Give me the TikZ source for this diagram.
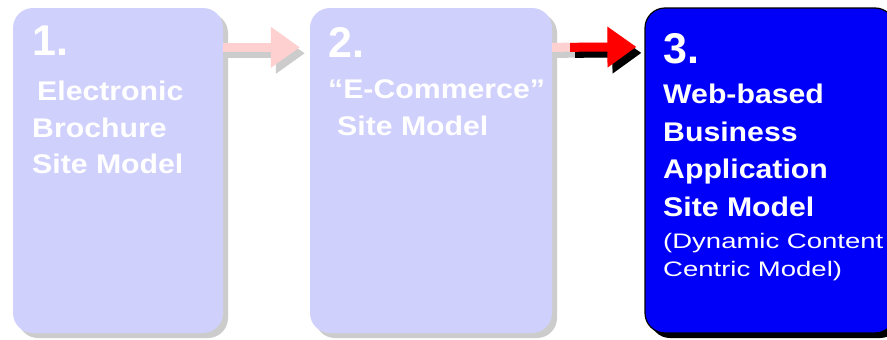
\documentclass[tikz,border=0pt]{standalone}
\usepackage{fontspec}
\usetikzlibrary{arrows.meta,calc,shadows}
\newfontfamily\lblfont[FakeStretch=1.12]{Liberation Sans Bold}
\newfontfamily\notefont[FakeStretch=1.31]{Liberation Sans}
\newfontfamily\numfont{Liberation Sans Bold}
\definecolor{lavender}{HTML}{D0D0FC}
\definecolor{paleblue}{HTML}{0000F8}
\definecolor{palepink}{HTML}{FFD0D0}
\definecolor{shadowgrey}{HTML}{CCCCCC}
\definecolor{arrowred}{HTML}{FF0000}
\tikzset{
  stagebox/.style={rectangle, rounded corners=20pt, minimum width=#1, minimum height=325pt, inner sep=0pt},
  fadedbox/.style={stagebox=#1, fill=lavender,
    drop shadow={shadow xshift=5pt, shadow yshift=-5pt, fill=shadowgrey, opacity=1}},
  activebox/.style={stagebox=#1, fill=paleblue, draw=black, line width=1.2pt,
    drop shadow={shadow xshift=5pt, shadow yshift=-5pt, fill=black, opacity=1}},
  numtext/.style={anchor=base west, inner sep=0pt, text=white, font=\numfont\fontsize{43}{48}\selectfont},
  boxtext/.style={anchor=base west, inner sep=0pt, text=white, font=\lblfont\fontsize{27}{32}\selectfont},
  smalltext/.style={anchor=base west, inner sep=0pt, text=white, font=\notefont\fontsize{21}{26}\selectfont},
  flow/.style={line width=9pt, -{Triangle[length=29pt,width=39pt]}},
  flowshadow/.style={flow, transform canvas={xshift=5pt, yshift=-6pt}},
}
\begin{document}
\begin{tikzpicture}[x=1pt,y=-1pt]
\clip (0,0) rectangle (887,340);
\fill[white] (0,0) rectangle (887,340);

% the three stage boxes
\node[fadedbox=210pt] (b1) at (118,170.5) {};
\node[fadedbox=242pt] (b2) at (431,170.5) {};
\node[activebox=250pt] (b3) at (770,170.5) {};

% arrow end points, level with the headings
\coordinate (a1s) at ($(b1.north east)+(0,39.5)$);
\coordinate (a1e) at ($(b2.north west)+(-10,39.5)$);
\coordinate (a2s) at ($(b2.north east)+(0,39.5)$);
\coordinate (a2m) at ($(b2.north east)+(18,39.5)$);
\coordinate (a2e) at ($(b3.north west)+(-8,39.5)$);

% faded arrow 1 -> 2
\draw[flowshadow, shadowgrey] (a1s) -- (a1e);
\draw[flow, palepink] (a1s) -- (a1e);
% faded shaft under arrow 2 -> 3
\draw[flowshadow, shadowgrey] (a2s) -- (a2e);
\draw[flow, palepink] (a2s) -- (a2e);
% active arrow 2 -> 3
\draw[flowshadow, black] (a2m) -- (a2e);
\draw[flow, arrowred] (a2m) -- (a2e);

% box 1 text
\node[numtext] (n1) at (32,55) {1.};
\node[boxtext] (t1a) at (37,100) {Electronic};
\node[boxtext] (t1b) at (32,137) {Brochure};
\node[boxtext] (t1c) at (32,173) {Site Model};

% box 2 text
\node[numtext] (n2) at (328,57) {2.};
\node[boxtext] (t2a) at (328,98) {“E-Commerce”};
\node[boxtext] (t2b) at (337,135) {Site Model};

% box 3 text
\node[numtext] (n3) at (663,63) {3.};
\node[boxtext] (t3a) at (663,103) {Web-based};
\node[boxtext] (t3b) at (663,141) {Business};
\node[boxtext] (t3c) at (663,178) {Application};
\node[boxtext] (t3d) at (663,216) {Site Model};
\node[smalltext] (t3e) at (663,248) {(Dynamic Content};
\node[smalltext] (t3f) at (663,276) {Centric Model)};
\end{tikzpicture}
\end{document}
